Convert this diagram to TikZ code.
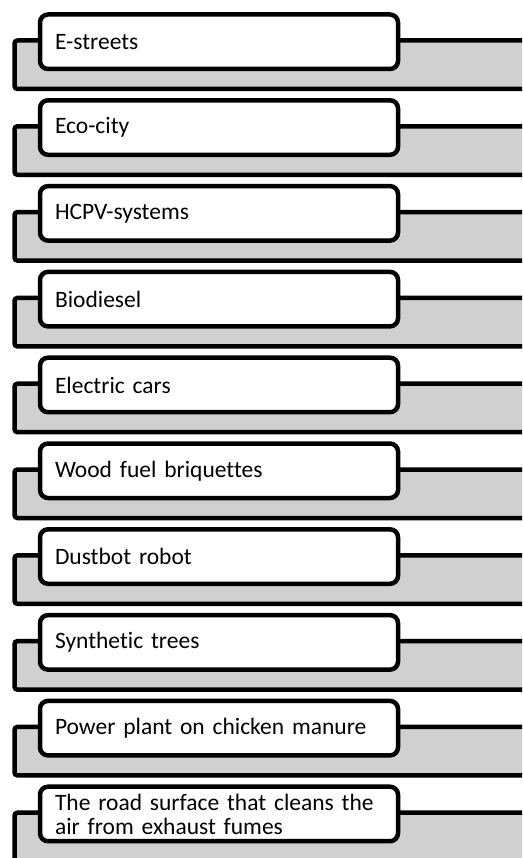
\documentclass[tikz,border=0pt]{standalone}
\usepackage{fontspec}
\setmainfont{Carlito}[Ligatures=NoCommon]
\usepackage{xcolor}
\usepackage{tikz}
\definecolor{bandgray}{RGB}{208,208,208}
\newcommand{\itemfont}{\fontsize{23.5}{24}\selectfont\spaceskip=0.16em plus 0.04em minus 0.04em\relax}

\begin{document}
\begin{tikzpicture}[x=1pt, y=-1pt,
  band/.style={draw, fill=bandgray, line width=4.5pt, rounded corners=3pt, minimum width=540pt, minimum height=48.5pt, anchor=north west, inner sep=0pt},
  item/.style={draw, fill=white, line width=4.5pt, rounded corners=8pt, minimum height=54.5pt, text width=328pt, inner xsep=15pt, inner ysep=0pt, align=left, anchor=north west, font=\itemfont}]
  \useasboundingbox (0,0) rectangle (522,858);
  \clip (0,0) rectangle (522,858);
  \foreach \txt [count=\i from 0] in {E-streets, Eco-city, HCPV-systems, Biodiesel, Electric cars, Wood fuel briquettes, Dustbot robot, Synthetic trees, Power plant on chicken manure, {The road surface that cleans the\\air from exhaust fumes}} {
    \pgfmathsetmacro{\top}{12.25+85.8*\i}
    \node[band] (band\i) at (12.25, \top+26) {};
    \node[item] (item\i) at (37.75, \top) {\txt};
  }
\end{tikzpicture}
\end{document}
